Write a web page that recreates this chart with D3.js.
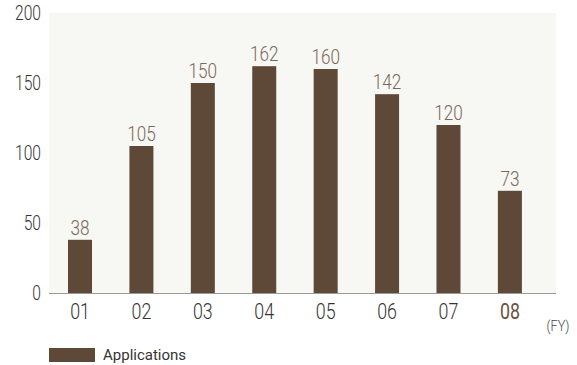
<!DOCTYPE html>
<html><head><meta charset="utf-8">
<script src="https://cdn.jsdelivr.net/npm/d3@7"></script>
<style>body{margin:0;background:#fff}svg{display:block}text{font-family:Roboto,"Noto Sans",sans-serif}</style>
</head><body>
<script>
const categories = ["01","02","03","04","05","06","07","08"];
const applications = [38,105,150,162,160,142,120,73];
const yTicks = [0,50,100,150,200];
const seriesName = "Applications";
const unitLabel = "(FY)";

const W=577,H=365;
const svg=d3.select("body").append("svg").attr("width",W).attr("height",H);
const plotL=49, plotR=556, plotT=13, plotB=293;
const x=d3.scaleBand().domain(categories).range([49.3,540.6]);
const y=d3.scaleLinear().domain([0,200]).range([plotB,plotT]);
const barW=24;

svg.append("rect").attr("x",plotL).attr("y",plotT).attr("width",plotR-plotL).attr("height",plotB-plotT).attr("fill","#f7f7f3");

svg.selectAll("rect.bar").data(applications).join("rect").attr("class","bar")
  .attr("x",(d,i)=>x(categories[i])+x.bandwidth()/2-barW/2)
  .attr("width",barW)
  .attr("y",d=>y(d)).attr("height",d=>y(0)-y(d))
  .attr("fill","#5e4838");

svg.append("line").attr("x1",plotL).attr("x2",plotR).attr("y1",y(0)+0.5).attr("y2",y(0)+0.5).attr("stroke","#9a9a9a").attr("stroke-width",1.2);

// value labels
svg.selectAll("text.val").data(applications).join("text").attr("class","val")
  .attr("transform",(d,i)=>`translate(${x(categories[i])+x.bandwidth()/2},${y(d)-5}) scale(0.88,1)`)
  .attr("text-anchor","middle").attr("font-size",19.5).attr("font-weight",300)
  .attr("fill","#7a675a").text(d=>d);

// y axis labels
svg.selectAll("text.yt").data(yTicks).join("text").attr("class","yt")
  .attr("transform",d=>`translate(41,${y(d)+7}) scale(0.8,1)`)
  .attr("text-anchor","end").attr("font-size",19.5).attr("font-weight",300).attr("fill","#333").text(d=>d);

// x axis labels
svg.selectAll("text.xt").data(categories).join("text").attr("class","xt")
  .attr("transform",d=>`translate(${x(d)+x.bandwidth()/2},319) scale(0.81,1)`)
  .attr("text-anchor","middle").attr("font-size",22)
  .attr("font-weight",(d,i)=>i===categories.length-1?400:300)
  .attr("fill",(d,i)=>i===categories.length-1?"#6b5040":"#333").text(d=>d);

svg.append("text").attr("transform","translate(558,331) scale(0.9,1)").attr("text-anchor","middle")
  .attr("font-size",14).attr("font-weight",300).attr("fill","#444").text(unitLabel);

// legend
svg.append("rect").attr("x",49).attr("y",348).attr("width",46).attr("height",14).attr("fill","#5e4838");
svg.append("text").attr("x",103).attr("y",360).attr("font-size",15).attr("fill","#333").text(seriesName);
</script>
</body></html>
